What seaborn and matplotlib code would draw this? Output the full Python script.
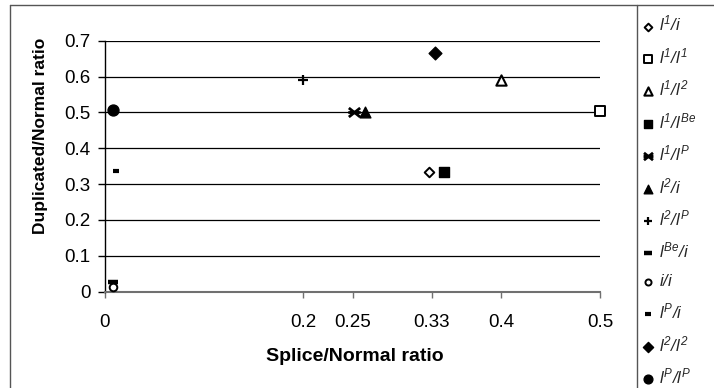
import matplotlib
matplotlib.use('Agg')
import matplotlib.pyplot as plt
import seaborn as sns
from matplotlib.lines import Line2D
from matplotlib.path import Path

# ---------------- data ----------------
series = ['l1/i', 'l1/l1', 'l1/l2', 'l1/lBe', 'l1/lP', 'l2/i',
          'l2/lP', 'lBe/i', 'i/i', 'lP/i', 'l2/l2', 'lP/lP']
legend_labels = [r'$l^{1}/i$', r'$l^{1}/l^{1}$', r'$l^{1}/l^{2}$', r'$l^{1}/l^{Be}$',
                 r'$l^{1}/l^{P}$', r'$l^{2}/i$', r'$l^{2}/l^{P}$', r'$l^{Be}/i$',
                 r'$i/i$', r'$l^{P}/i$', r'$l^{2}/l^{2}$', r'$l^{P}/l^{P}$']
splice_ratio = [0.327, 0.5, 0.40, 0.342, 0.252, 0.263, 0.20, 0.008, 0.008, 0.011, 0.333, 0.008]
dup_ratio = [0.335, 0.505, 0.59, 0.335, 0.50, 0.50, 0.59, 0.028, 0.012, 0.337, 0.665, 0.507]
x_ticks = [0, 0.2, 0.25, 0.33, 0.4, 0.5]
x_ticklabels = ['0', '0.2', '0.25', '0.33', '0.4', '0.5']
y_ticks = [0, 0.1, 0.2, 0.3, 0.4, 0.5, 0.6, 0.7]
y_ticklabels = ['0', '0.1', '0.2', '0.3', '0.4', '0.5', '0.6', '0.7']

# ---------------- styles ----------------
W, K = 'white', 'black'
star_path = Path([(-1, -0.8), (1, 0.8), (-1, 0.8), (1, -0.8), (-1.1, 0), (1.1, 0)],
                 [Path.MOVETO, Path.LINETO, Path.MOVETO, Path.LINETO, Path.MOVETO, Path.LINETO])
styles = [
    dict(marker='D', s=24, facecolor=W, edgecolor=K, linewidths=1.4),
    dict(marker='s', s=42, facecolor=W, edgecolor=K, linewidths=1.4),
    dict(marker='^', s=55, facecolor=W, edgecolor=K, linewidths=1.5),
    dict(marker='s', s=50, facecolor=K, edgecolor=K, linewidths=1),
    dict(marker=star_path, s=80, color=K, edgecolor=K, linewidths=2.0),
    dict(marker='^', s=60, facecolor=K, edgecolor=K, linewidths=1),
    dict(marker='+', s=55, color=K, edgecolor=K, linewidths=1.6),
    dict(marker='_', s=60, color=K, edgecolor=K, linewidths=3.2),
    dict(marker='o', s=30, facecolor=W, edgecolor=K, linewidths=1.4),
    dict(marker='_', s=22, color=K, edgecolor=K, linewidths=3.0),
    dict(marker='D', s=42, facecolor=K, edgecolor=K, linewidths=1),
    dict(marker='o', s=62, facecolor=K, edgecolor=K, linewidths=1),
]

sns.set_theme(style='white')
plt.rcParams['font.family'] = ['Liberation Sans', 'DejaVu Sans']
plt.rcParams['mathtext.fontset'] = 'custom'
plt.rcParams['mathtext.rm'] = 'Liberation Sans:italic'
plt.rcParams['mathtext.it'] = 'Liberation Sans:italic'
plt.rcParams['mathtext.bf'] = 'Liberation Sans:bold'

FW, FH = 714, 388
fig = plt.figure(figsize=(FW / 100, FH / 100), dpi=100)
fig.patch.set_facecolor('white')
ax = fig.add_axes([105 / FW, 1 - 291.7 / FH, 495 / FW, (291.7 - 40.7) / FH])

for xv, yv, lab, st in zip(splice_ratio, dup_ratio, legend_labels, styles):
    sns.scatterplot(x=[xv], y=[yv], ax=ax, label=lab, legend=False,
                    clip_on=False, zorder=3, **st)

ax.set_xlim(0, 0.5)
ax.set_ylim(0, 0.7)
ax.set_xticks(x_ticks)
ax.set_xticklabels(x_ticklabels)
ax.set_yticks(y_ticks)
ax.set_yticklabels(y_ticklabels)

ax.yaxis.grid(True, color='black', linewidth=0.9)
ax.xaxis.grid(False)
ax.set_axisbelow(True)
for sp in ['top', 'right']:
    ax.spines[sp].set_visible(False)
ax.spines['left'].set_color('black')
ax.spines['left'].set_linewidth(1.0)
ax.spines['bottom'].set_color('#707070')
ax.spines['bottom'].set_linewidth(1.5)

ax.tick_params(axis='y', left=True, direction='out', length=5, width=1,
               color='black', pad=5.5, labelsize=13.5, labelcolor='black')
ax.tick_params(axis='x', bottom=True, direction='out', length=4, width=1,
               color='#707070', pad=12, labelsize=13.5, labelcolor='black')

ax.set_xlabel('Splice/Normal ratio', fontsize=14, fontweight='bold', color='black')
ax.xaxis.set_label_coords(0.504, -0.224)
ax.set_ylabel('Duplicated/Normal ratio', fontsize=12.5, fontweight='bold', color='black')
ax.yaxis.set_label_coords(-0.115, 0.62)

handles, labels = ax.get_legend_handles_labels()
fig.legend(handles, labels, loc='upper left', bbox_to_anchor=(643 / FW, 1 - 14 / FH),
           frameon=False, fontsize=12, handlelength=0.6, handletextpad=0.35,
           labelspacing=0.75, borderaxespad=0, borderpad=0, scatterpoints=1,
           markerscale=0.8)

# chart frame lines
fig.add_artist(Line2D([10 / FW, 10 / FW], [0, 1 - 5 / FH], transform=fig.transFigure,
                      color='#555555', linewidth=1))
fig.add_artist(Line2D([10 / FW, 1], [1 - 5 / FH, 1 - 5 / FH], transform=fig.transFigure,
                      color='#555555', linewidth=1))
fig.add_artist(Line2D([637 / FW, 637 / FW], [0, 1 - 5 / FH], transform=fig.transFigure,
                      color='#555555', linewidth=1))

fig.savefig('out.png', dpi=100, facecolor='white')
